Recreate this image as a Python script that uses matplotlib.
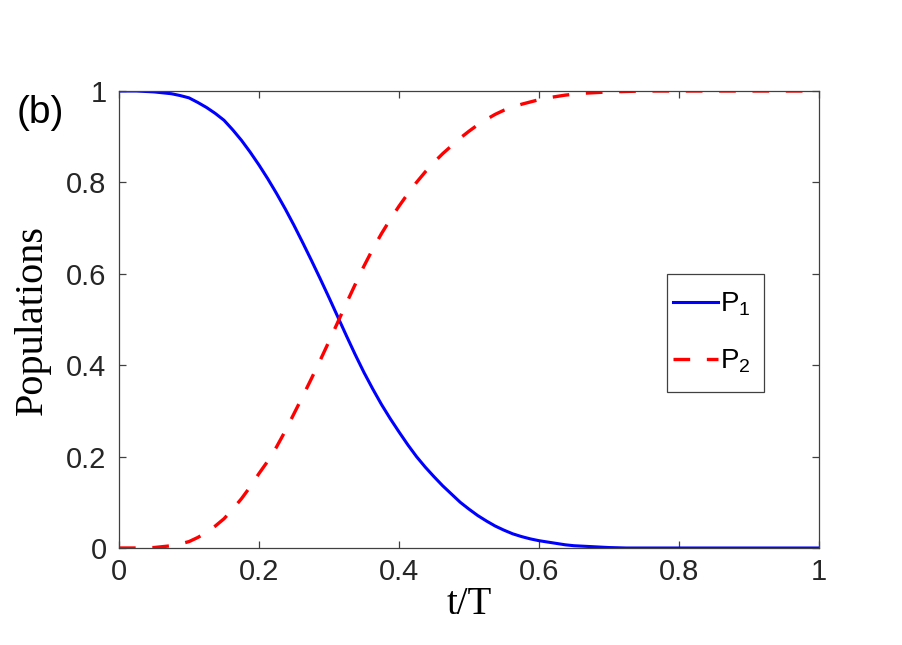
import matplotlib
matplotlib.use("Agg")
import matplotlib.pyplot as plt
from matplotlib.patches import Rectangle

plt.rcParams['font.family'] = ['Liberation Sans', 'DejaVu Sans']
plt.rcParams['mathtext.fontset'] = 'custom'
plt.rcParams['mathtext.rm'] = 'Liberation Sans'
plt.rcParams['mathtext.it'] = 'Liberation Sans'

t = [0.0, 0.0125, 0.025, 0.0375, 0.05, 0.0625, 0.075, 0.0875, 0.1, 0.1125, 0.125,
     0.1375, 0.15, 0.1625, 0.175, 0.1875, 0.2, 0.2125, 0.225, 0.2375, 0.25, 0.2625,
     0.275, 0.2875, 0.3, 0.3125, 0.325, 0.3375, 0.35, 0.3625, 0.375, 0.3875, 0.4,
     0.4125, 0.425, 0.4375, 0.45, 0.4625, 0.475, 0.4875, 0.5, 0.5125, 0.525, 0.5375,
     0.55, 0.5625, 0.575, 0.5875, 0.6, 0.6125, 0.625, 0.6375, 0.65, 0.6625, 0.675,
     0.6875, 0.7, 0.7125, 0.725, 0.75, 0.8, 0.85, 0.9, 0.95, 1.0]
P1 = [1.0, 1.0, 1.0, 0.999, 0.998, 0.996, 0.994, 0.990, 0.985, 0.975, 0.964,
      0.951, 0.936, 0.915, 0.892, 0.866, 0.838, 0.808, 0.776, 0.742, 0.706, 0.668,
      0.629, 0.589, 0.548, 0.506, 0.464, 0.423, 0.384, 0.348, 0.314, 0.283, 0.254,
      0.226, 0.200, 0.177, 0.156, 0.136, 0.118, 0.100, 0.085, 0.071, 0.059, 0.048,
      0.039, 0.031, 0.025, 0.020, 0.016, 0.013, 0.010, 0.007, 0.005, 0.004, 0.003,
      0.002, 0.001, 0.0005, 0.0, 0.0, 0.0, 0.0, 0.0, 0.0, 0.0]
P2 = [0.0, 0.0, 0.0, 0.0005, 0.001, 0.003, 0.005, 0.009, 0.014, 0.023, 0.034,
      0.048, 0.064, 0.085, 0.108, 0.134, 0.163, 0.190, 0.221, 0.256, 0.294, 0.332,
      0.371, 0.411, 0.452, 0.494, 0.536, 0.577, 0.617, 0.654, 0.688, 0.719, 0.748,
      0.775, 0.800, 0.823, 0.844, 0.863, 0.880, 0.897, 0.912, 0.926, 0.938, 0.949,
      0.958, 0.965, 0.971, 0.976, 0.981, 0.985, 0.988, 0.991, 0.993, 0.995, 0.996,
      0.997, 0.998, 0.9985, 0.999, 1.0, 1.0, 1.0, 1.0, 1.0, 1.0]
labels = [r'$\mathregular{P_1}$', r'$\mathregular{P_2}$']
xticks = [0, 0.2, 0.4, 0.6, 0.8, 1]
yticks = [0, 0.2, 0.4, 0.6, 0.8, 1]
xticklabels = ['0', '0.2', '0.4', '0.6', '0.8', '1']
yticklabels = ['0', '0.2', '0.4', '0.6', '0.8', '1']

axc = '#404040'
fig = plt.figure(figsize=(9.03, 6.45), dpi=100)
ax = fig.add_axes([119/903, 1-548/645, 700/903, 457/645])
ax.plot(t, P1, color='#0000ff', lw=2.2, label=labels[0], solid_joinstyle='round')
ax.plot(t, P2, color='#ff0000', lw=2.4, linestyle=(0, (5.0, 5.0)), label=labels[1])
ax.set_xlim(0, 1)
ax.set_ylim(0, 1)
ax.set_xticks(xticks)
ax.set_xticklabels(xticklabels)
ax.set_yticks(yticks)
ax.set_yticklabels(yticklabels)
ax.tick_params(direction='in', length=5, width=0.9, color=axc, labelcolor='#262626',
               labelsize=21, top=True, right=True)
ax.tick_params(axis='x', pad=7)
ax.tick_params(axis='y', pad=9)
for s in ax.spines.values():
    s.set_color(axc)
    s.set_linewidth(0.9)
ax.set_xlabel('t/T', family=['Liberation Serif'], fontsize=28, labelpad=0)
ax.set_ylabel('Populations', family=['Liberation Serif'], fontsize=29, labelpad=11)

# legend frame (MATLAB-style, taller padding than wide)
frame = Rectangle((667/903, 1-392/645), 97/903, 118/645,
                  transform=fig.transFigure, facecolor='white',
                  edgecolor=axc, linewidth=0.9, zorder=8, clip_on=False)
ax.add_patch(frame)
leg = ax.legend(loc='center left', bbox_to_anchor=(667/903, 1-333/645),
                bbox_transform=fig.transFigure, fontsize=20, frameon=False,
                handlelength=1.65, handletextpad=0.05,
                borderpad=0.2, labelspacing=1.06, borderaxespad=0)
leg.set_zorder(10)
fig.text(17/903, 1-123/645, '(b)', fontsize=28, va='baseline', ha='left', color='black')
fig.savefig('out.png', dpi=100)
